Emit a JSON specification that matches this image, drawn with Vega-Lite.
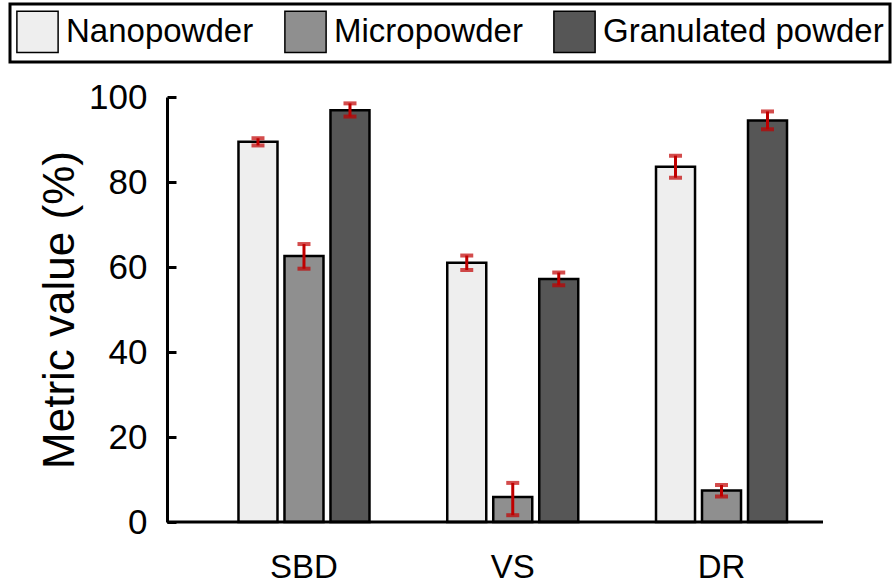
{
  "$schema": "https://vega.github.io/schema/vega-lite/v6.json",
  "width": 656,
  "height": 425,
  "autosize": {"type": "none"},
  "padding": {"left": 167, "top": 97, "right": 69, "bottom": 63},
  "background": "white",
  "config": {
    "font": "Liberation Sans",
    "view": {"stroke": null}
  },
  "datasets": {
    "bars": [
      {"cat": "SBD", "type": "Nanopowder", "value": 89.5, "lo": 88.6, "hi": 90.3},
      {"cat": "SBD", "type": "Micropowder", "value": 62.6, "lo": 59.6, "hi": 65.4},
      {"cat": "SBD", "type": "Granulated powder", "value": 96.9, "lo": 95.4, "hi": 98.5},
      {"cat": "VS", "type": "Nanopowder", "value": 61.0, "lo": 59.3, "hi": 62.7},
      {"cat": "VS", "type": "Micropowder", "value": 5.9, "lo": 1.6, "hi": 9.2},
      {"cat": "VS", "type": "Granulated powder", "value": 57.2, "lo": 55.7, "hi": 58.7},
      {"cat": "DR", "type": "Nanopowder", "value": 83.6, "lo": 81.0, "hi": 86.2},
      {"cat": "DR", "type": "Micropowder", "value": 7.4, "lo": 6.0, "hi": 8.7},
      {"cat": "DR", "type": "Granulated powder", "value": 94.5, "lo": 92.4, "hi": 96.6}
    ]
  },
  "layer": [
    {
      "data": {"name": "bars"},
      "mark": {"type": "bar", "stroke": "black", "strokeWidth": 2.5},
      "encoding": {
        "x": {
          "field": "cat",
          "type": "nominal",
          "sort": ["SBD", "VS", "DR"],
          "scale": {"range": [32.6, 658.9], "paddingInner": 0.339, "paddingOuter": 0.1695},
          "axis": {
            "title": null,
            "labelAngle": 0,
            "domain": false,
            "ticks": false,
            "labelFontSize": 33,
            "labelColor": "black",
            "labelPadding": 29
          }
        },
        "xOffset": {
          "field": "type",
          "type": "nominal",
          "sort": ["Nanopowder", "Micropowder", "Granulated powder"],
          "scale": {"paddingInner": 0.152, "paddingOuter": 0.076}
        },
        "y": {
          "field": "value",
          "type": "quantitative",
          "scale": {"domain": [0, 100], "nice": false},
          "axis": {
            "title": "Metric value (%)",
            "titleFontSize": 44,
            "titleFontWeight": "normal",
            "titleColor": "black",
            "titlePadding": 6,
            "values": [0, 20, 40, 60, 80, 100],
            "grid": false,
            "domainColor": "black",
            "domainWidth": 3,
            "tickColor": "black",
            "tickWidth": 3,
            "tickSize": -9,
            "labelFontSize": 35,
            "labelColor": "black",
            "labelPadding": 29
          }
        },
        "color": {
          "field": "type",
          "type": "nominal",
          "sort": ["Nanopowder", "Micropowder", "Granulated powder"],
          "scale": {
            "domain": ["Nanopowder", "Micropowder", "Granulated powder"],
            "range": ["#eeeeee", "#8f8f8f", "#565656"]
          },
          "legend": {
            "title": null,
            "orient": "none",
            "legendX": -157,
            "legendY": -93,
            "direction": "horizontal",
            "padding": 6,
            "strokeColor": "black",
            "symbolType": "square",
            "symbolSize": 1700,
            "symbolStrokeColor": "black",
            "symbolStrokeWidth": 1.5,
            "symbolOpacity": 1,
            "labelFontSize": 33,
            "labelColor": "black",
            "labelOffset": 7,
            "labelLimit": 500,
            "columnPadding": 27,
            "encode": {
              "legend": {"update": {"strokeWidth": {"value": 3}}}
            }
          }
        }
      }
    },
    {
      "data": {"name": "bars"},
      "mark": {"type": "rule", "color": "#c00000", "strokeWidth": 3},
      "encoding": {
        "x": {"field": "cat", "type": "nominal", "sort": ["SBD", "VS", "DR"]},
        "xOffset": {"field": "type", "type": "nominal", "sort": ["Nanopowder", "Micropowder", "Granulated powder"]},
        "y": {"field": "lo", "type": "quantitative"},
        "y2": {"field": "hi"}
      }
    },
    {
      "data": {"name": "bars"},
      "mark": {"type": "tick", "color": "#c00000", "thickness": 4, "size": 13},
      "encoding": {
        "x": {"field": "cat", "type": "nominal", "sort": ["SBD", "VS", "DR"]},
        "xOffset": {"field": "type", "type": "nominal", "sort": ["Nanopowder", "Micropowder", "Granulated powder"]},
        "y": {"field": "lo", "type": "quantitative"}
      }
    },
    {
      "data": {"name": "bars"},
      "mark": {"type": "tick", "color": "#c00000", "thickness": 4, "size": 13},
      "encoding": {
        "x": {"field": "cat", "type": "nominal", "sort": ["SBD", "VS", "DR"]},
        "xOffset": {"field": "type", "type": "nominal", "sort": ["Nanopowder", "Micropowder", "Granulated powder"]},
        "y": {"field": "hi", "type": "quantitative"}
      }
    },
    {
      "data": {"values": [{}]},
      "mark": {"type": "rule", "color": "black", "strokeWidth": 3},
      "encoding": {
        "y": {"datum": 0, "type": "quantitative"}
      }
    }
  ]
}
